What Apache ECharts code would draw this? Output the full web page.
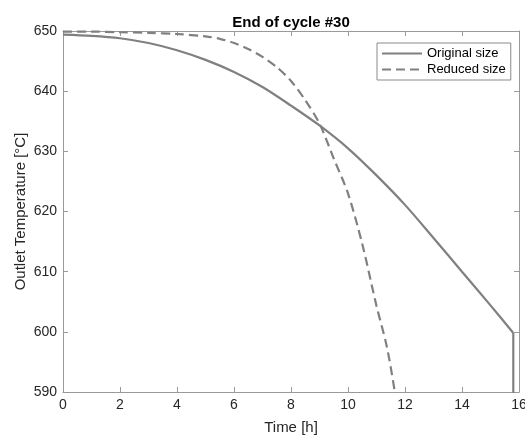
<!DOCTYPE html>
<html>
<head>
<meta charset="utf-8">
<script src="https://cdn.jsdelivr.net/npm/echarts@6/dist/echarts.min.js"></script>
<style>
  html, body { margin: 0; padding: 0; background: #fff; }
  #chart { width: 525px; height: 435px; }
</style>
</head>
<body>
<div id="chart"></div>
<script>
// time [h] and outlet temperature [°C]
const origTime = [0, 1, 2, 3, 4, 5, 6, 7, 8, 9, 10, 11, 12, 13, 14, 15, 15.8];
const origTemp = [649.4, 649.2, 648.8, 648.0, 646.8, 645.2, 643.2, 640.7, 637.6, 634.3, 630.5, 626.0, 621.1, 615.6, 610.0, 604.4, 599.8];
// vertical drop at the end of the original-size run
const dropTime = [15.8, 15.8];
const dropTemp = [599.8, 580];

const redTime = [0, 1, 2, 3, 4, 5, 5.5, 6, 6.5, 7, 7.5, 8, 8.5, 9, 9.5, 10, 10.5, 11, 11.36, 11.64, 11.8];
const redTemp = [649.9, 649.9, 649.8, 649.7, 649.5, 649.1, 648.7, 648.0, 647.0, 645.7, 644.0, 641.7, 638.5, 634.6, 628.8, 623.0, 614.6, 604.3, 597.6, 590.1, 585];

const xTicks = [0, 16, 2];
const yTicks = [590, 650, 10];

const FONT = 'Liberation Sans, Arial, sans-serif';
const LINE = '#808080';
const AXIS = '#9a9a9a';
const TXT = '#262626';

function pairs(xs, ys) {
  return xs.map((x, i) => [x, ys[i]]);
}

// 坐标轴样式
function axisBase(show) {
  return {
    type: 'value',
    axisLine: { show: true, onZero: false, lineStyle: { color: AXIS, width: 1 } },
    axisTick: { show: true, inside: true, length: 5, lineStyle: { color: AXIS } },
    axisLabel: { show: show, color: TXT, fontSize: 14, fontFamily: FONT, margin: 6 },
    splitLine: { show: false }
  };
}

let xBottom = Object.assign(axisBase(true), {
  min: xTicks[0], max: xTicks[1], interval: xTicks[2],
  position: 'bottom',
  name: 'Time [h]', nameLocation: 'middle', nameGap: 28,
  nameTextStyle: { color: TXT, fontSize: 15, fontFamily: FONT }
});
let xTop = Object.assign(axisBase(false), {
  min: xTicks[0], max: xTicks[1], interval: xTicks[2], position: 'top'
});
let yLeft = Object.assign(axisBase(true), {
  min: yTicks[0], max: yTicks[1], interval: yTicks[2],
  position: 'left',
  name: 'Outlet Temperature [°C]', nameLocation: 'middle', nameGap: 35, nameRotate: 90,
  nameMoveOverlap: false,
  nameTextStyle: { color: TXT, fontSize: 15, fontFamily: FONT }
});
let yRight = Object.assign(axisBase(false), {
  min: yTicks[0], max: yTicks[1], interval: yTicks[2], position: 'right'
});

let option = {
  animation: false,
  backgroundColor: '#fff',
  title: {
    text: 'End of cycle #30',
    left: 286, top: 10, textAlign: 'center',
    textStyle: { color: '#000', fontSize: 15, fontWeight: 'bold', fontFamily: FONT }
  },
  legend: {
    orient: 'vertical',
    left: 377, top: 43,
    padding: [4, 5, 4, 4],
    itemGap: 3,
    itemWidth: 40, itemHeight: 14,
    itemStyle: { opacity: 0 },
    backgroundColor: '#fff',
    borderColor: '#8a8a8a', borderWidth: 1,
    textStyle: { color: '#000', fontSize: 13, fontFamily: FONT },
    data: ['Original size', 'Reduced size']
  },
  grid: { left: 63, right: 6, top: 31, bottom: 43, outerBoundsMode: 'none' },
  xAxis: [xBottom, xTop],
  yAxis: [yLeft, yRight],
  series: [
    {
      name: 'Original size',
      type: 'line',
      smooth: 0.3,
      symbol: 'none',
      clip: true,
      color: LINE,
      lineStyle: { color: LINE, width: 2.2 },
      data: pairs(origTime, origTemp)
    },
    {
      name: 'drop',
      type: 'line',
      symbol: 'none',
      clip: true,
      color: LINE,
      lineStyle: { color: LINE, width: 2.2 },
      data: pairs(dropTime, dropTemp)
    },
    {
      name: 'Reduced size',
      type: 'line',
      smooth: 0.3,
      symbol: 'none',
      clip: true,
      color: LINE,
      lineStyle: { color: LINE, width: 2.2, type: [9, 5] },
      data: pairs(redTime, redTemp)
    }
  ]
};

let myChart = echarts.init(document.getElementById('chart'));
myChart.setOption(option);
</script>
</body>
</html>
